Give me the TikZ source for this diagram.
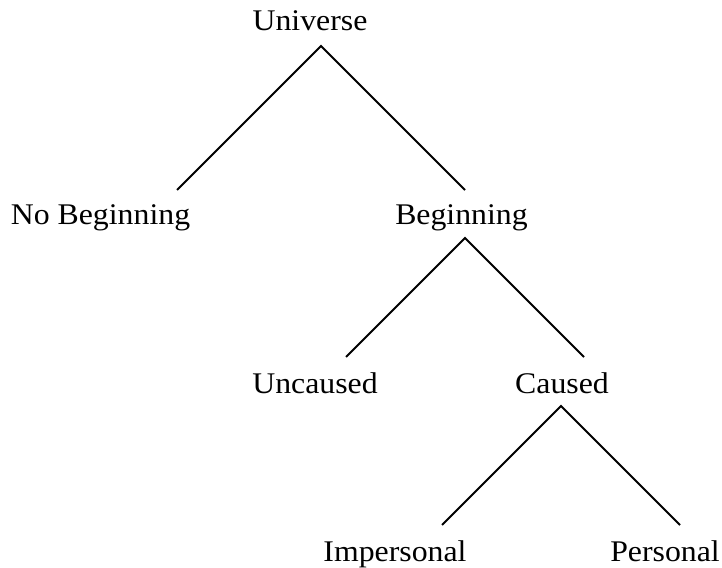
\documentclass[tikz,border=0pt]{standalone}
\usepackage{fontspec}
\usepackage{graphicx}
\setmainfont{Liberation Serif}
\newcommand{\widetext}[1]{\scalebox{1.06}[1]{#1}}
\begin{document}
\begin{tikzpicture}[x=1pt,y=-1pt,
  label/.style={anchor=base,inner sep=0pt,font=\fontsize{30}{35}\selectfont},
  branch/.style={line width=2pt,line cap=butt}]
\useasboundingbox (0,0) rectangle (722,567);

% labels of the tree
\node[label] (uni)   at (310,30.5)  {\widetext{Universe}};
\node[label] (nobeg) at (100.5,224.5) {\widetext{No Beginning}};
\node[label] (beg)   at (461.5,224.5) {\widetext{Beginning}};
\node[label] (unc)   at (315,393) {\widetext{Uncaused}};
\node[label] (cau)   at (562,393) {\widetext{Caused}};
\node[label] (imp)   at (395,561) {\widetext{Impersonal}};
\node[label] (per)   at (665,561) {\widetext{Personal}};

% branch points and branch ends
\coordinate (uniTop) at (321,46);
\coordinate (nobegEnd) at (177,190);
\coordinate (begEnd) at (465,190);
\coordinate (begTop) at (465,238);
\coordinate (uncEnd) at (346,357);
\coordinate (cauEnd) at (584,357);
\coordinate (cauTop) at (561,406);
\coordinate (impEnd) at (442,525);
\coordinate (perEnd) at (680,525);

\draw[branch] (nobegEnd) -- (uniTop) -- (begEnd);
\draw[branch] (uncEnd) -- (begTop) -- (cauEnd);
\draw[branch] (impEnd) -- (cauTop) -- (perEnd);
\end{tikzpicture}
\end{document}
